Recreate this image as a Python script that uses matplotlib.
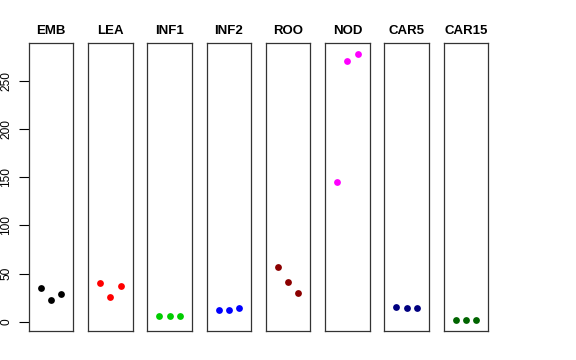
import matplotlib
matplotlib.use("Agg")
import matplotlib.pyplot as plt
import numpy as np

plt.rcParams['font.family'] = ['Liberation Sans', 'DejaVu Sans']

tissues = ["EMB", "LEA", "INF1", "INF2", "ROO", "NOD", "CAR5", "CAR15"]
colors = ["black", "red", "#00cd00", "blue", "#8b0000", "magenta", "#000080", "#006400"]

emb = [34.8, 22.5, 28.5]
lea = [40.3, 25.4, 37.6]
inf1 = [5.5, 5.8, 5.8]
inf2 = [12.1, 12.1, 13.9]
roo = [57.0, 41.7, 29.9]
nod = [145.7, 271.4, 278.3]
car5 = [14.9, 13.9, 13.9]
car15 = [1.7, 1.7, 1.7]
values = [emb, lea, inf1, inf2, roo, nod, car5, car15]

reps = [1, 2, 3]

fig = plt.figure(figsize=(5.76, 3.6), dpi=100)
gs = fig.add_gridspec(1, 8, left=28.7/576, right=488.3/576,
                      bottom=1 - 330.7/360, top=1 - 43.3/360, wspace=0.327)

# same y range in every panel, R style 4% padding
allv = np.concatenate(values)
pad = (allv.max() - allv.min()) * 0.04
ylo, yhi = allv.min() - pad, allv.max() + pad

for i, (name, vals, col) in enumerate(zip(tissues, values, colors)):
    ax = fig.add_subplot(gs[0, i])
    ax.scatter(reps, vals, s=24, color=col, linewidths=0, zorder=3)
    ax.set_xlim(-0.16, 4.16)
    ax.set_ylim(ylo, yhi)
    ax.set_xticks([])
    ax.set_title(name, fontsize=9.5, fontweight='bold', pad=7)
    for sp in ax.spines.values():
        sp.set_color('#333333')
        sp.set_linewidth(0.9)
    if i == 0:
        ax.set_yticks([0, 50, 100, 150, 200, 250])
        ax.tick_params(axis='y', length=7, width=0.8, pad=5, labelsize=8.6)
        for lab in ax.get_yticklabels():
            lab.set_rotation(90)
            lab.set_va('center')
    else:
        ax.set_yticks([])

fig.savefig("out.png", dpi=100)
